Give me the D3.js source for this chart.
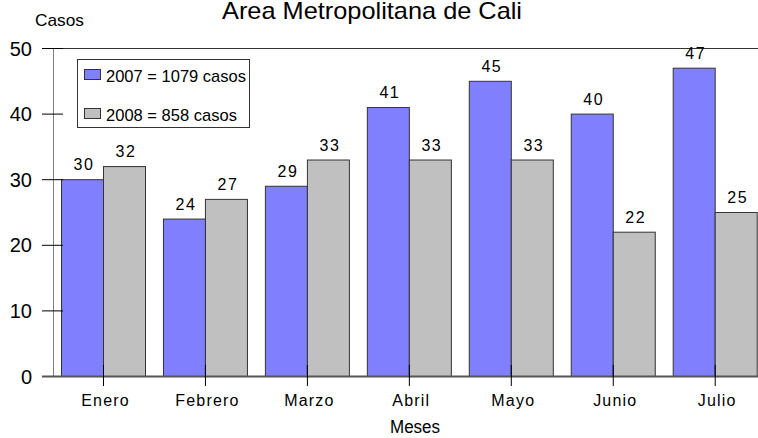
<!DOCTYPE html>
<html>
<head>
<meta charset="utf-8">
<script src="https://cdn.jsdelivr.net/npm/d3@7/dist/d3.min.js"></script>
<style>
  body { margin: 0; background: #fff; }
  svg text { font-family: "Liberation Sans", Arial, sans-serif; fill: #000; }
</style>
</head>
<body>
<div id="chart"></div>
<script>
// datos
var meses = ["Enero", "Febrero", "Marzo", "Abril", "Mayo", "Junio", "Julio"];
var casos2007 = [30, 24, 29, 41, 45, 40, 47];
var casos2008 = [32, 27, 33, 33, 33, 22, 25];
var series = ["2007 = 1079 casos", "2008 = 858 casos"];
var yTicks = [0, 10, 20, 30, 40, 50];

var W = 758, H = 438;
var colores = ["#8080ff", "#c0c0c0"];

var svg = d3.select("#chart").append("svg")
    .attr("width", W).attr("height", H);

var x = d3.scalePoint().domain(meses).range([103, 714.7]);
var y = d3.scaleLinear().domain([0, 50]).range([376, 48]);
var bw = 42;

// marco superior
svg.append("line").attr("x1", 53).attr("x2", W).attr("y1", y(50) + 0.5).attr("y2", y(50) + 0.5)
    .attr("stroke", "#333").attr("stroke-width", 1);

// barras
var valores = [casos2007, casos2008];
valores.forEach(function(vals, s) {
    svg.append("g").selectAll("rect")
        .data(vals)
        .enter().append("rect")
        .attr("x", function(d, i) { return x(meses[i]) - bw + s * bw + 0.5; })
        .attr("y", function(d) { return y(d) + 0.5; })
        .attr("width", bw)
        .attr("height", function(d) { return y(0) - y(d); })
        .attr("fill", colores[s])
        .attr("stroke", "#333")
        .attr("stroke-width", 1);

    svg.append("g").selectAll("text")
        .data(vals)
        .enter().append("text")
        .attr("x", function(d, i) { return x(meses[i]) - bw / 2 + s * bw + 2; })
        .attr("y", function(d) { return y(d) - 9; })
        .attr("text-anchor", "middle")
        .attr("font-size", 16)
        .attr("letter-spacing", 1.5)
        .text(function(d) { return d; });
});

// eje y
svg.append("line").attr("x1", 53.5).attr("x2", 53.5).attr("y1", y(50)).attr("y2", y(0))
    .attr("stroke", "#808080");
var yAxis = svg.append("g").attr("transform", "translate(53,0)")
    .call(d3.axisLeft(y).tickValues(yTicks).tickSize(11));
yAxis.select(".domain").remove();
yAxis.selectAll(".tick line").attr("x2", 10).attr("x1", -11).attr("stroke", "#000");
yAxis.selectAll(".tick text").attr("font-size", 20).attr("font-family", "Liberation Sans, Arial, sans-serif")
    .attr("x", -21).attr("dy", "0.35em");

// linea base
svg.append("line").attr("x1", 42).attr("x2", W).attr("y1", y(0) + 0.5).attr("y2", y(0) + 0.5)
    .attr("stroke", "#555").attr("stroke-width", 2);

// eje x
var xAxis = svg.append("g").attr("transform", "translate(0," + y(0) + ")")
    .call(d3.axisBottom(x).tickSize(10).tickPadding(9));
xAxis.select(".domain").remove();
xAxis.selectAll(".tick line").attr("y1", -11).attr("y2", 10).attr("stroke", "#000");
xAxis.selectAll(".tick text").attr("font-size", 16).attr("letter-spacing", 1.2)
    .attr("font-family", "Liberation Sans, Arial, sans-serif").attr("fill", "#000")
    .attr("dx", 2);

// titulos
svg.append("text").attr("x", 372).attr("y", 19).attr("text-anchor", "middle")
    .attr("font-size", 24).attr("textLength", 300).attr("lengthAdjust", "spacingAndGlyphs")
    .text("Area Metropolitana de Cali");
svg.append("text").attr("x", 35).attr("y", 26)
    .attr("font-size", 17).attr("textLength", 49).attr("lengthAdjust", "spacingAndGlyphs")
    .text("Casos");
svg.append("text").attr("x", 390).attr("y", 433)
    .attr("font-size", 18).attr("textLength", 50).attr("lengthAdjust", "spacingAndGlyphs")
    .text("Meses");

// leyenda
var leg = svg.append("g").attr("transform", "translate(77,59)");
leg.append("rect").attr("x", 0.5).attr("y", 0.5).attr("width", 172).attr("height", 68)
    .attr("fill", "#fff").attr("stroke", "#333");
var largos = [140, 131];
series.forEach(function(name, i) {
    leg.append("rect").attr("x", 7.5).attr("y", 10.5 + i * 39).attr("width", 16).attr("height", 10)
        .attr("fill", colores[i]).attr("stroke", "#333");
    leg.append("text").attr("x", 29).attr("y", 23 + i * 39)
        .attr("font-size", 17).attr("textLength", largos[i]).attr("lengthAdjust", "spacingAndGlyphs")
        .text(name);
});
</script>
</body>
</html>
